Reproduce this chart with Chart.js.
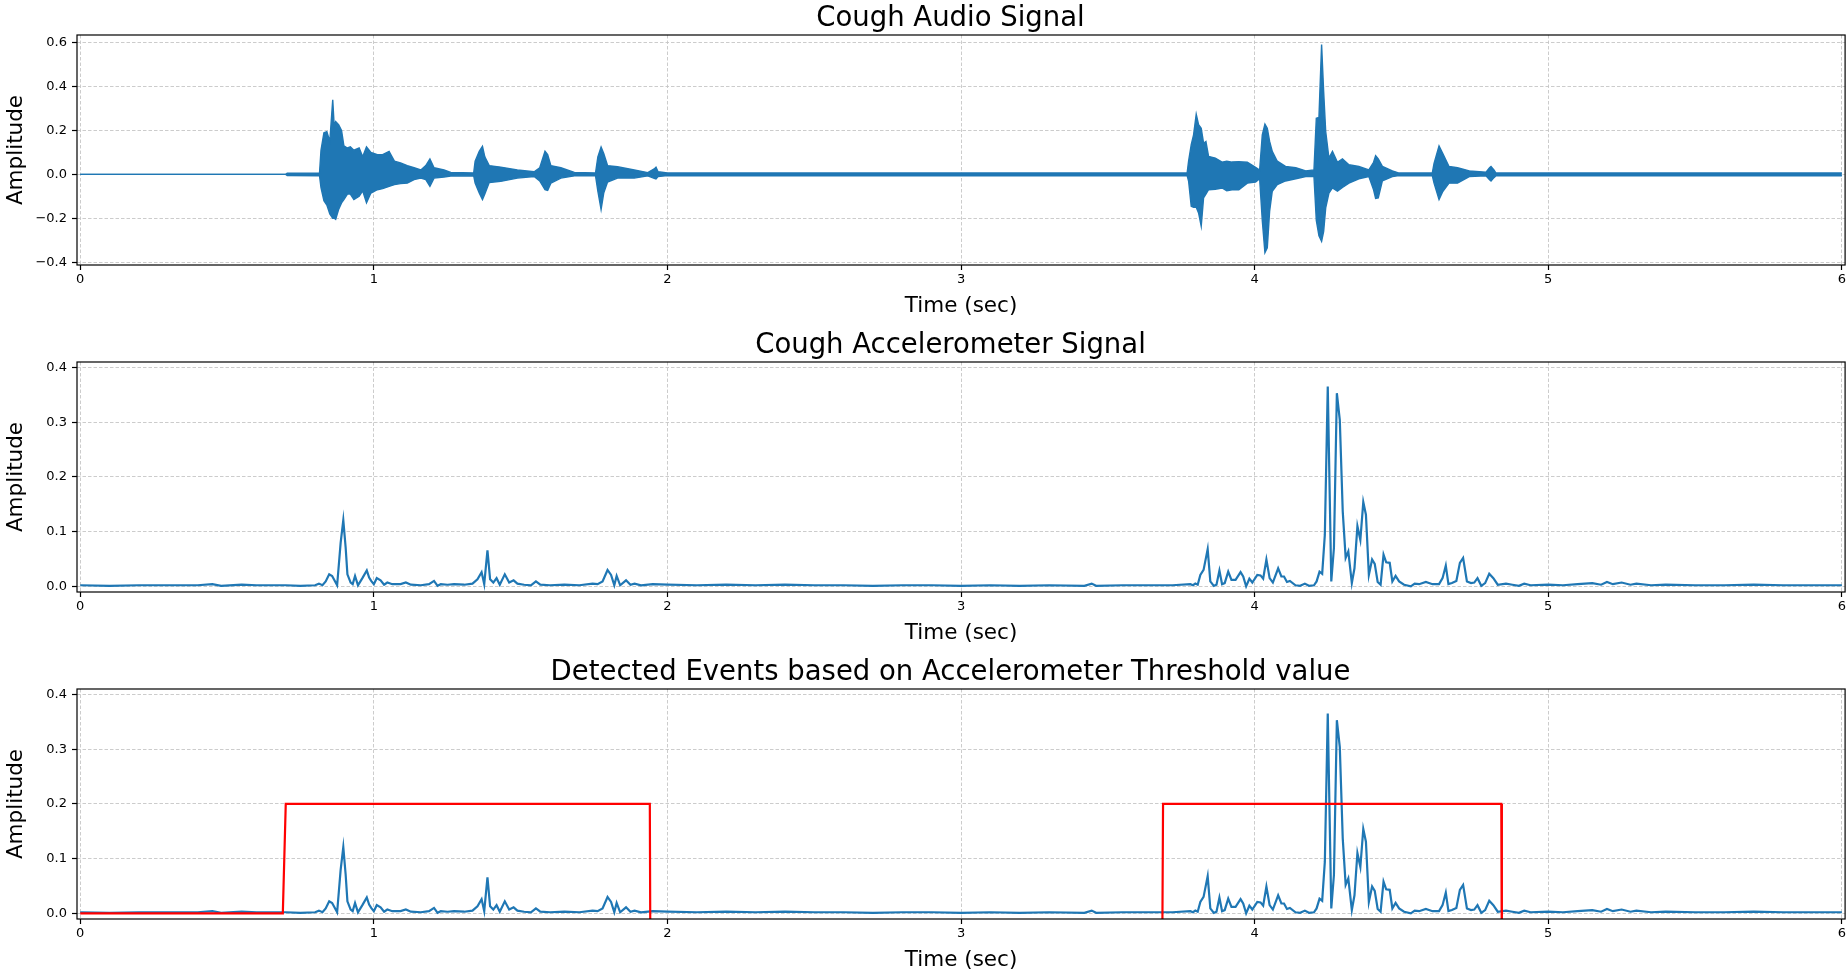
<!DOCTYPE html>
<html>
<head>
<meta charset="utf-8">
<title>Cough signals</title>
<script src="https://cdn.jsdelivr.net/npm/chart.js@4.4.0/dist/chart.umd.min.js"></script>
<style>
html, body { margin: 0; padding: 0; background: #fff; }
#wrap { position: relative; width: 1848px; height: 977px; overflow: hidden; }
canvas { position: absolute; left: 0; }
</style>
</head>
<body>
<div id="wrap">
  <canvas id="audioChart" width="1848" height="319" style="top:0px"></canvas>
  <canvas id="accelChart" width="1848" height="319" style="top:327px"></canvas>
  <canvas id="eventChart" width="1848" height="319" style="top:654px"></canvas>
</div>
<script>
// tick labels
const xTicks = [0, 1, 2, 3, 4, 5, 6];
const audioYTicks = [-0.4, -0.2, 0.0, 0.2, 0.4, 0.6];
const accelYTicks = [0.0, 0.1, 0.2, 0.3, 0.4];

// audio waveform, read as upper / lower envelope (sec, amplitude)
const audioTimes = [
  0.00, 0.70, 0.705, 0.815, 0.82, 0.83, 0.84, 0.85, 0.86, 0.865, 0.87, 0.88, 0.89, 0.898,
  0.91, 0.92, 0.932, 0.95, 0.962, 0.975, 0.99, 1.012, 1.03, 1.052, 1.07, 1.091, 1.114,
  1.137, 1.16, 1.177, 1.191, 1.205, 1.239, 1.262, 1.34, 1.345, 1.359, 1.37, 1.378, 1.393,
  1.432, 1.489, 1.546, 1.565, 1.583, 1.592, 1.603, 1.637, 1.683, 1.755, 1.763, 1.774,
  1.783, 1.796, 1.83, 1.887, 1.933, 1.955, 1.961, 1.968, 2.0,
  3.77, 3.775, 3.784, 3.792, 3.801, 3.809, 3.818, 3.826, 3.834, 3.843, 3.866, 3.889,
  3.905, 3.923, 3.946, 3.975, 4.003, 4.017, 4.026, 4.035, 4.043, 4.051, 4.06, 4.077,
  4.105, 4.14, 4.174, 4.202, 4.21, 4.219, 4.228, 4.235, 4.242, 4.253, 4.265, 4.282,
  4.299, 4.321, 4.355, 4.389, 4.405, 4.412, 4.421, 4.435, 4.469, 4.492, 4.605, 4.611,
  4.628, 4.64, 4.662, 4.691, 4.731, 4.788, 4.8, 4.805, 4.815, 4.822, 6.0
];
const audioUpper = [
  0, 0, 0.005, 0.006, 0.11, 0.19, 0.195, 0.15, 0.34, 0.22, 0.24, 0.226, 0.20, 0.13,
  0.12, 0.125, 0.11, 0.12, 0.08, 0.125, 0.10, 0.09, 0.09, 0.105, 0.06, 0.052, 0.04,
  0.03, 0.02, 0.04, 0.07, 0.03, 0.02, 0.009, 0.006, 0.06, 0.105, 0.128, 0.08, 0.04,
  0.033, 0.02, 0.012, 0.03, 0.105, 0.09, 0.04, 0.03, 0.009, 0.006, 0.08, 0.125,
  0.095, 0.04, 0.035, 0.02, 0.008, 0.025, 0.033, 0.012, 0.006,
  0.006, 0.06, 0.135, 0.18, 0.274, 0.226, 0.21, 0.142, 0.15, 0.082, 0.074, 0.056,
  0.06, 0.056, 0.058, 0.055, 0.032, 0.02, 0.18, 0.229, 0.21, 0.15, 0.105, 0.06,
  0.036, 0.03, 0.016, 0.02, 0.256, 0.26, 0.592, 0.377, 0.195, 0.074, 0.105, 0.055,
  0.071, 0.044, 0.036, 0.02, 0.055, 0.085, 0.07, 0.036, 0.016, 0.006, 0.006, 0.05,
  0.13, 0.097, 0.036, 0.03, 0.016, 0.01, 0.03, 0.036, 0.02, 0.006, 0.006
];
const audioLower = [
  0, 0, -0.005, -0.006, -0.06, -0.12, -0.14, -0.18, -0.20, -0.20, -0.205, -0.16, -0.13, -0.115,
  -0.09, -0.09, -0.115, -0.10, -0.075, -0.13, -0.085, -0.07, -0.065, -0.055, -0.047, -0.042, -0.04,
  -0.024, -0.017, -0.024, -0.054, -0.017, -0.012, -0.008, -0.006, -0.04, -0.085, -0.115, -0.09, -0.037,
  -0.032, -0.017, -0.01, -0.03, -0.07, -0.073, -0.04, -0.017, -0.007, -0.006, -0.077, -0.16,
  -0.085, -0.035, -0.017, -0.017, -0.007, -0.018, -0.021, -0.01, -0.006,
  -0.006, -0.03, -0.145, -0.15, -0.15, -0.176, -0.236, -0.107, -0.09, -0.07, -0.068, -0.062,
  -0.075, -0.07, -0.07, -0.04, -0.035, -0.02, -0.21, -0.357, -0.335, -0.168, -0.077, -0.047,
  -0.03, -0.02, -0.01, -0.01, -0.21, -0.28, -0.305, -0.26, -0.153, -0.085, -0.062, -0.077,
  -0.06, -0.04, -0.02, -0.01, -0.07, -0.11, -0.107, -0.03, -0.01, -0.006, -0.006, -0.04,
  -0.115, -0.08, -0.04, -0.04, -0.01, -0.006, -0.025, -0.03, -0.015, -0.006, -0.006
];

// accelerometer signal (sec, amplitude)
const accelTimes = [
  0.00, 0.10, 0.20, 0.30, 0.40, 0.45, 0.48, 0.55, 0.60, 0.70, 0.75, 0.80, 0.813, 0.825,
  0.836, 0.848, 0.858, 0.875, 0.887, 0.896, 0.904, 0.910, 0.921, 0.928, 0.936, 0.946,
  0.961, 0.976, 0.984, 0.991, 1.000, 1.010, 1.023, 1.035, 1.046, 1.063, 1.091, 1.109,
  1.126, 1.16, 1.188, 1.205, 1.217, 1.228, 1.251, 1.273, 1.308, 1.336, 1.353, 1.367,
  1.376, 1.387, 1.396, 1.407, 1.418, 1.429, 1.446, 1.461, 1.476, 1.489, 1.512, 1.535,
  1.552, 1.567, 1.60, 1.649, 1.70, 1.745, 1.762, 1.779, 1.796, 1.808, 1.819, 1.827,
  1.839, 1.859, 1.874, 1.888, 1.91, 1.95, 2.00, 2.1, 2.2, 2.3, 2.4, 2.5, 2.6, 2.7, 2.8,
  2.9, 3.0, 3.1, 3.2, 3.3, 3.42, 3.445, 3.46, 3.55, 3.65, 3.72, 3.781, 3.79, 3.798,
  3.806, 3.815, 3.826, 3.84, 3.849, 3.861, 3.870, 3.88, 3.889, 3.898, 3.91, 3.921,
  3.935, 3.952, 3.961, 3.971, 3.982, 3.992, 4.009, 4.02, 4.029, 4.04, 4.051, 4.062,
  4.08, 4.091, 4.10, 4.11, 4.12, 4.139, 4.155, 4.171, 4.185, 4.202, 4.211, 4.221,
  4.23, 4.239, 4.249, 4.261, 4.27, 4.28, 4.29, 4.30, 4.31, 4.319, 4.331, 4.34, 4.35,
  4.36, 4.37, 4.379, 4.389, 4.40, 4.409, 4.419, 4.429, 4.439, 4.448, 4.46, 4.469,
  4.48, 4.492, 4.509, 4.532, 4.545, 4.56, 4.583, 4.606, 4.628, 4.64, 4.651, 4.66,
  4.672, 4.687, 4.699, 4.71, 4.723, 4.737, 4.748, 4.759, 4.772, 4.785, 4.799, 4.813,
  4.828, 4.856, 4.878, 4.90, 4.918, 4.94, 5.0, 5.05, 5.1, 5.15, 5.18, 5.2, 5.22, 5.25,
  5.28, 5.3, 5.35, 5.4, 5.5, 5.6, 5.7, 5.8, 5.9, 6.0
];
const accelValues = [
  0.002, 0.001, 0.002, 0.002, 0.002, 0.004, 0.001, 0.003, 0.002, 0.002, 0.001, 0.002, 0.005, 0.002,
  0.009, 0.022, 0.019, 0.002, 0.080, 0.121, 0.071, 0.022, 0.007, 0.004, 0.019, 0.002,
  0.015, 0.029, 0.016, 0.010, 0.004, 0.015, 0.011, 0.003, 0.007, 0.004, 0.004, 0.007,
  0.003, 0.002, 0.004, 0.010, 0.001, 0.004, 0.003, 0.004, 0.003, 0.005, 0.013, 0.026,
  0.004, 0.066, 0.013, 0.007, 0.015, 0.003, 0.022, 0.007, 0.011, 0.005, 0.003, 0.002,
  0.009, 0.003, 0.002, 0.003, 0.002, 0.005, 0.004, 0.009, 0.030, 0.021, 0.002, 0.019,
  0.002, 0.011, 0.003, 0.005, 0.002, 0.004, 0.003, 0.002, 0.003, 0.002, 0.003, 0.002, 0.002, 0.001, 0.002,
  0.002, 0.001, 0.002, 0.001, 0.002, 0.001, 0.005, 0.001, 0.002, 0.002, 0.002, 0.004, 0.002, 0.005,
  0.003, 0.021, 0.030, 0.068, 0.009, 0.001, 0.003, 0.029, 0.004, 0.006, 0.027, 0.012,
  0.012, 0.026, 0.018, 0.000, 0.014, 0.007, 0.021, 0.020, 0.014, 0.049, 0.015, 0.007,
  0.033, 0.018, 0.018, 0.008, 0.010, 0.002, 0.001, 0.005, 0.001, 0.002, 0.009, 0.027,
  0.023, 0.094, 0.365, 0.009, 0.070, 0.353, 0.304, 0.137, 0.052, 0.064, 0.006, 0.033, 0.110,
  0.085, 0.154, 0.131, 0.021, 0.049, 0.041, 0.008, 0.003, 0.058, 0.044, 0.043, 0.009,
  0.019, 0.009, 0.003, 0.000, 0.005, 0.004, 0.008, 0.004, 0.004, 0.015, 0.038, 0.004,
  0.006, 0.010, 0.043, 0.052, 0.009, 0.006, 0.007, 0.015, 0.001, 0.006, 0.023, 0.015,
  0.003, 0.005, 0.003, 0.001, 0.005, 0.002, 0.003, 0.002, 0.004, 0.006, 0.003, 0.008, 0.004, 0.007,
  0.003, 0.005, 0.002, 0.003, 0.002, 0.002, 0.003, 0.002, 0.002, 0.002
];

// detected events from the accelerometer threshold (sec, level)
const eventTimes = [0.00, 0.69, 0.70, 1.94, 1.942, 3.685, 3.688, 4.84, 4.842, 6.0];
const eventValues = [0.0, 0.0, 0.2, 0.2, -0.1, -0.1, 0.2, 0.2, -0.1, -0.1];

const FONT = "'DejaVu Sans', sans-serif";
const BLUE = '#1f77b4';
const GRID = '#c6c6c6';

const toPoints = (xs, ys) => xs.map((x, i) => ({x: x, y: ys[i]}));
const fmtY = v => {
  const s = Number(v).toFixed(1);
  return s.startsWith('-') ? '\u2212' + s.slice(1) : s;
};

// black box round the plot area, and title nudged to sit where the original does
const framePlugin = {
  id: 'frame',
  afterLayout(chart) {
    if (chart.titleBlock) {
      chart.titleBlock.left = 53;
      chart.titleBlock.right = chart.width;
    }
  },
  afterDraw(chart) {
    const {ctx, chartArea: a} = chart;
    ctx.save();
    ctx.strokeStyle = '#000';
    ctx.lineWidth = 1.2;
    ctx.strokeRect(a.left, a.top, a.right - a.left, a.bottom - a.top);
    ctx.restore();
  }
};

function makeOptions(title, yMin, yMax, yTicks) {
  const gridOpts = {
    color: GRID,
    lineWidth: 0.9,
    drawTicks: true,
    tickLength: 5,
    tickColor: '#000',
    tickWidth: 1.2,
    tickBorderDash: []
  };
  return {
    responsive: false,
    animation: false,
    devicePixelRatio: 1,
    layout: { padding: 0, autoPadding: false },
    elements: { point: { radius: 0 }, line: { tension: 0 } },
    plugins: {
      legend: { display: false },
      tooltip: { enabled: false },
      title: {
        display: true,
        text: title,
        color: '#000',
        font: { family: FONT, size: 27.5, weight: 'normal' },
        padding: { top: 2, bottom: 0 }
      }
    },
    scales: {
      x: {
        type: 'linear',
        min: -0.011,
        max: 6.011,
        afterBuildTicks: s => { s.ticks = xTicks.map(v => ({value: v})); },
        afterFit: s => { s.height = 54; },
        grid: gridOpts,
        border: { display: false, dash: [3.5, 2] },
        ticks: {
          color: '#000', padding: 2, maxRotation: 0, autoSkip: false,
          font: { family: FONT, size: 13 },
          callback: v => String(v)
        },
        title: {
          display: true, text: 'Time (sec)', color: '#000',
          font: { family: FONT, size: 21.5 }, padding: 0
        }
      },
      y: {
        type: 'linear',
        min: yMin,
        max: yMax,
        afterBuildTicks: s => { s.ticks = yTicks.map(v => ({value: v})); },
        afterFit: s => { s.width = 77; },
        grid: gridOpts,
        border: { display: false, dash: [3.5, 2] },
        ticks: {
          color: '#000', padding: 5, autoSkip: false,
          font: { family: FONT, size: 13 },
          callback: v => fmtY(v)
        },
        title: {
          display: true, text: 'Amplitude', color: '#000',
          font: { family: FONT, size: 21.5 }, padding: { top: 4, bottom: 0 }
        }
      }
    }
  };
}

new Chart(document.getElementById('audioChart'), {
  type: 'line',
  data: {
    datasets: [
      {
        data: toPoints(audioTimes, audioUpper),
        borderColor: BLUE, backgroundColor: BLUE, borderWidth: 1.4,
        fill: '+1'
      },
      {
        data: toPoints(audioTimes, audioLower),
        borderColor: BLUE, backgroundColor: BLUE, borderWidth: 1.4,
        fill: false
      }
    ]
  },
  options: makeOptions('Cough Audio Signal', -0.413, 0.635, audioYTicks),
  plugins: [framePlugin]
});

new Chart(document.getElementById('accelChart'), {
  type: 'line',
  data: {
    datasets: [
      {
        data: toPoints(accelTimes, accelValues),
        borderColor: BLUE, borderWidth: 2.2, fill: false
      }
    ]
  },
  options: makeOptions('Cough Accelerometer Signal', -0.0103, 0.41, accelYTicks),
  plugins: [framePlugin]
});

new Chart(document.getElementById('eventChart'), {
  type: 'line',
  data: {
    datasets: [
      {
        data: toPoints(eventTimes, eventValues),
        borderColor: '#ff0000', borderWidth: 2.2, fill: false
      },
      {
        data: toPoints(accelTimes, accelValues),
        borderColor: BLUE, borderWidth: 2.2, fill: false
      }
    ]
  },
  options: makeOptions('Detected Events based on Accelerometer Threshold value', -0.0103, 0.41, accelYTicks),
  plugins: [framePlugin]
});
</script>
</body>
</html>
